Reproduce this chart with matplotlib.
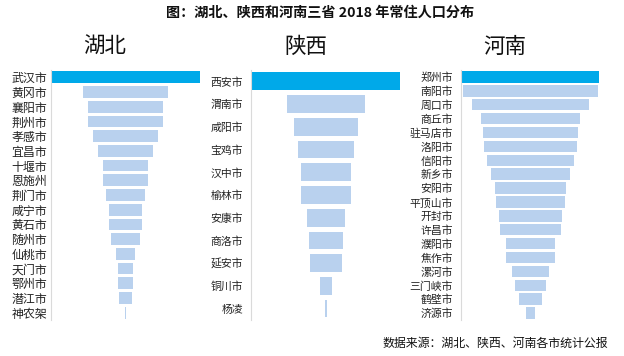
import matplotlib
matplotlib.use("Agg")
import matplotlib.pyplot as plt

plt.rcParams['font.family'] = ['Noto Sans CJK SC', 'DejaVu Sans']

title = "图：湖北、陕西和河南三省 2018 年常住人口分布"
source = "数据来源：湖北、陕西、河南各市统计公报"

hubei_cities = ['武汉市', '黄冈市', '襄阳市', '荆州市', '孝感市', '宜昌市', '十堰市', '恩施州',
                '荆门市', '咸宁市', '黄石市', '随州市', '仙桃市', '天门市', '鄂州市', '潜江市', '神农架']
hubei_pop = [1108, 633, 568, 556, 492, 413, 341, 336, 290, 254, 247, 222, 145, 118, 105, 96, 8]

shaanxi_cities = ['西安市', '渭南市', '咸阳市', '宝鸡市', '汉中市', '榆林市', '安康市', '商洛市',
                  '延安市', '铜川市', '杨凌']
shaanxi_pop = [1000, 532, 437, 378, 344, 340, 262, 230, 220, 75, 10]

henan_cities = ['郑州市', '南阳市', '周口市', '商丘市', '驻马店市', '洛阳市', '信阳市', '新乡市',
                '安阳市', '平顶山市', '开封市', '许昌市', '濮阳市', '焦作市', '漯河市', '三门峡市',
                '鹤壁市', '济源市']
henan_pop = [1014, 1001, 868, 733, 705, 689, 646, 579, 518, 504, 457, 444, 361, 360, 267, 227, 163, 73]

panels = [
    ("湖北", hubei_cities, hubei_pop),
    ("陕西", shaanxi_cities, shaanxi_pop),
    ("河南", henan_cities, henan_pop),
]

W, H = 624, 356
fig = plt.figure(figsize=(W / 100, H / 100), dpi=100)

# axes boxes in pixels: (left, right), top, bottom
boxes = [(50.5, 200.5), (251, 401), (460.7, 600.3)]
bar_px = [148, 148, 137.6]
heights = [0.8, 0.78, 0.82]
label_sizes = [8.6, 7.8, 7.8]
pads = [2.5, 5.5, 5.5]
title_x = [104.5, 306, 504.5]
top_px, bot_px = 70, 320

TOP_C = '#00A9E9'
BAR_C = '#B9D1EE'

for i, (name, cities, pops) in enumerate(panels):
    l, r = boxes[i]
    ax = fig.add_axes([l / W, 1 - bot_px / H, (r - l) / W, (bot_px - top_px) / H])
    n = len(cities)
    y = list(range(n))
    m = max(pops)
    half = m / 2 * (r - l) / bar_px[i]
    lefts = [-p / 2 for p in pops]
    colors = [TOP_C] + [BAR_C] * (n - 1)
    ax.barh(y, pops, left=lefts, height=heights[i], color=colors, edgecolor='none')
    ax.set_xlim(-half, half)
    ax.set_ylim(n - 0.5, -0.5)
    ax.set_yticks(y)
    ax.set_yticklabels(cities, fontsize=label_sizes[i], color='#222222')
    ax.tick_params(axis='y', length=0, pad=pads[i])
    ax.set_xticks([])
    for s in ['top', 'right', 'bottom']:
        ax.spines[s].set_visible(False)
    ax.spines['left'].set_color('#DADADA')
    ax.spines['left'].set_linewidth(0.8)
    fig.text(title_x[i] / W, 1 - 47 / H, name, fontsize=15.5, ha='center', va='center', color='#111111')

fig.text(320 / W, 1 - 13 / H, title, fontsize=10.2, fontweight='bold', ha='center', va='center', color='#111111')
fig.text(608 / W, 1 - 343 / H, source, fontsize=8.6, ha='right', va='center', color='#111111')

fig.savefig("out.png", dpi=100)
